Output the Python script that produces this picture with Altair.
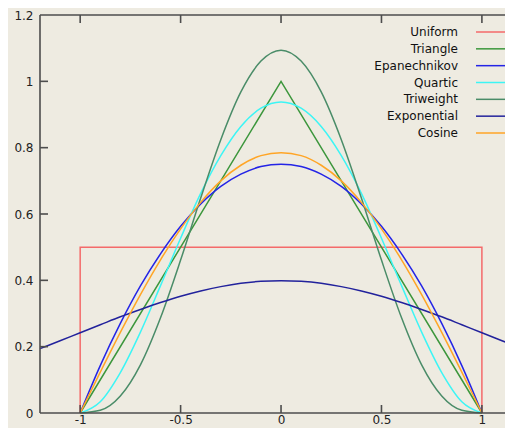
import altair as alt
import pandas as pd

names = ["Uniform", "Triangle", "Epanechnikov", "Quartic", "Triweight", "Exponential", "Cosine"]
colors = ["#f46a6a", "#3c963c", "#2424e6", "#3cf5f5", "#4a8c68", "#22229c", "#ffa526"]

# compact-support kernels sampled on [-1, 1]
xs_c = [-1.0, -0.9, -0.8, -0.7, -0.6, -0.5, -0.4, -0.3, -0.2, -0.1, 0.0,
        0.1, 0.2, 0.3, 0.4, 0.5, 0.6, 0.7, 0.8, 0.9, 1.0]
epan = [0, 0.143, 0.27, 0.383, 0.48, 0.563, 0.63, 0.683, 0.72, 0.743, 0.75,
        0.743, 0.72, 0.683, 0.63, 0.563, 0.48, 0.383, 0.27, 0.143, 0]
quartic = [0, 0.034, 0.122, 0.244, 0.384, 0.527, 0.662, 0.776, 0.864, 0.919, 0.938,
           0.919, 0.864, 0.776, 0.662, 0.527, 0.384, 0.244, 0.122, 0.034, 0]
triweight = [0, 0.008, 0.051, 0.145, 0.287, 0.461, 0.648, 0.824, 0.968, 1.061, 1.094,
             1.061, 0.968, 0.824, 0.648, 0.461, 0.287, 0.145, 0.051, 0.008, 0]
cosine = [0, 0.123, 0.243, 0.357, 0.462, 0.555, 0.635, 0.7, 0.747, 0.776, 0.785,
          0.776, 0.747, 0.7, 0.635, 0.555, 0.462, 0.357, 0.243, 0.123, 0]

# unbounded kernel sampled on [-1.2, 1.2]
xs_g = [-1.2, -1.1, -1.0, -0.9, -0.8, -0.7, -0.6, -0.5, -0.4, -0.3, -0.2, -0.1, 0.0,
        0.1, 0.2, 0.3, 0.4, 0.5, 0.6, 0.7, 0.8, 0.9, 1.0, 1.1, 1.2]
expo = [0.194, 0.218, 0.242, 0.266, 0.29, 0.312, 0.333, 0.352, 0.368, 0.381, 0.391, 0.397, 0.399,
        0.397, 0.391, 0.381, 0.368, 0.352, 0.333, 0.312, 0.29, 0.266, 0.242, 0.218, 0.194]

# piecewise-linear kernels
xs_tri = [-1.0, 0.0, 1.0]
triangle = [0, 1.0, 0]
xs_uni = [-1.0, -1.0, 1.0, 1.0]
uniform = [0, 0.5, 0.5, 0]

xticks = [-1, -0.5, 0, 0.5, 1]
yticks = [0, 0.2, 0.4, 0.6, 0.8, 1, 1.2]

smooth_rows = []
for nm, xs, ys in [("Epanechnikov", xs_c, epan), ("Quartic", xs_c, quartic),
                   ("Triweight", xs_c, triweight), ("Exponential", xs_g, expo),
                   ("Cosine", xs_c, cosine)]:
    for i, (xv, yv) in enumerate(zip(xs, ys)):
        smooth_rows.append({"name": nm, "x": xv, "y": yv, "ord": i})
lin_rows = []
for nm, xs, ys in [("Uniform", xs_uni, uniform), ("Triangle", xs_tri, triangle)]:
    for i, (xv, yv) in enumerate(zip(xs, ys)):
        lin_rows.append({"name": nm, "x": xv, "y": yv, "ord": i})

smooth_df = pd.DataFrame(smooth_rows)
lin_df = pd.DataFrame(lin_rows)
legend_df = pd.DataFrame({"name": names})
xt_df = pd.DataFrame({"x": xticks})
yt_df = pd.DataFrame({"v": yticks[1:-1]})
frame_df = pd.DataFrame({"k": [0]})

W, H = 465, 398
FONT = "DejaVu Sans"
color_scale = alt.Scale(domain=names, range=colors)
x_scale = alt.Scale(domain=[-1.2, 1.115], nice=False, zero=False)
y_scale = alt.Scale(domain=[0, 1.2], nice=False)

x_axis = alt.Axis(values=xticks, labelExpr="'' + datum.value", grid=False,
                  ticks=False, tickSize=0, domain=False, labelPadding=1,
                  labelFont=FONT, labelFontSize=12, labelColor="#222222")
x_enc = alt.X("x:Q", scale=x_scale, title=None, axis=x_axis)
y_enc = alt.Y("y:Q", scale=y_scale, title=None,
              axis=alt.Axis(values=yticks, labelExpr="'' + datum.value", grid=False,
                            ticks=False, tickSize=0, domain=False, labelPadding=7,
                            labelFont=FONT, labelFontSize=12, labelColor="#222222"))
y_plain = alt.Y("y:Q", scale=y_scale, axis=None)
col = alt.Color("name:N", scale=color_scale, legend=None)

lin = alt.Chart(lin_df).mark_line(strokeWidth=1.5).encode(
    x=x_enc, y=y_enc, color=col, order="ord:Q")
smooth = alt.Chart(smooth_df).mark_line(interpolate="monotone", strokeWidth=1.5).encode(
    x=x_enc, y=y_plain, color=col, order="ord:Q")

line_style = dict(color="#4d4d4d", strokeWidth=1.6)
frame_top = alt.Chart(frame_df).mark_rule(**line_style).encode(
    x=alt.value(0), x2=alt.value(W), y=alt.value(0))
frame_bot = alt.Chart(frame_df).mark_rule(**line_style).encode(
    x=alt.value(0), x2=alt.value(W), y=alt.value(H))
frame_left = alt.Chart(frame_df).mark_rule(**line_style).encode(
    x=alt.value(0), y=alt.value(0), y2=alt.value(H))

xt_bot = alt.Chart(xt_df).mark_rule(**line_style).encode(
    x=x_enc, y=alt.value(H), y2=alt.value(H - 8))
xt_top = alt.Chart(xt_df).mark_rule(**line_style).encode(
    x=x_enc, y=alt.value(0), y2=alt.value(8))
yt_left = alt.Chart(yt_df).mark_rule(**line_style).encode(
    y=alt.Y("v:Q", scale=y_scale, axis=None), x=alt.value(0), x2=alt.value(8))

leg_y = alt.Y("name:N", scale=alt.Scale(type="point", domain=names, range=[17, 118], padding=0),
              axis=None, sort=names)
leg_text = alt.Chart(legend_df).mark_text(align="right", baseline="middle", font=FONT,
                                          fontSize=12, color="#111111").encode(
    x=alt.value(418), y=leg_y, text="name:N")
leg_line = alt.Chart(legend_df).mark_rule(strokeWidth=1.5).encode(
    x=alt.value(436), x2=alt.value(466), y=leg_y, color=col)

chart = alt.layer(
    lin, smooth, frame_top, frame_bot, frame_left, xt_bot, xt_top, yt_left, leg_line, leg_text
).resolve_scale(y="independent").properties(
    width=W, height=H,
    padding={"left": 32, "top": 7, "right": 0, "bottom": 15},
    autosize=alt.AutoSizeParams(type="none"),
    background="#eeebe1",
).configure_view(stroke=None)

chart.save("out.html", embed_options={"renderer": "svg", "actions": False})
